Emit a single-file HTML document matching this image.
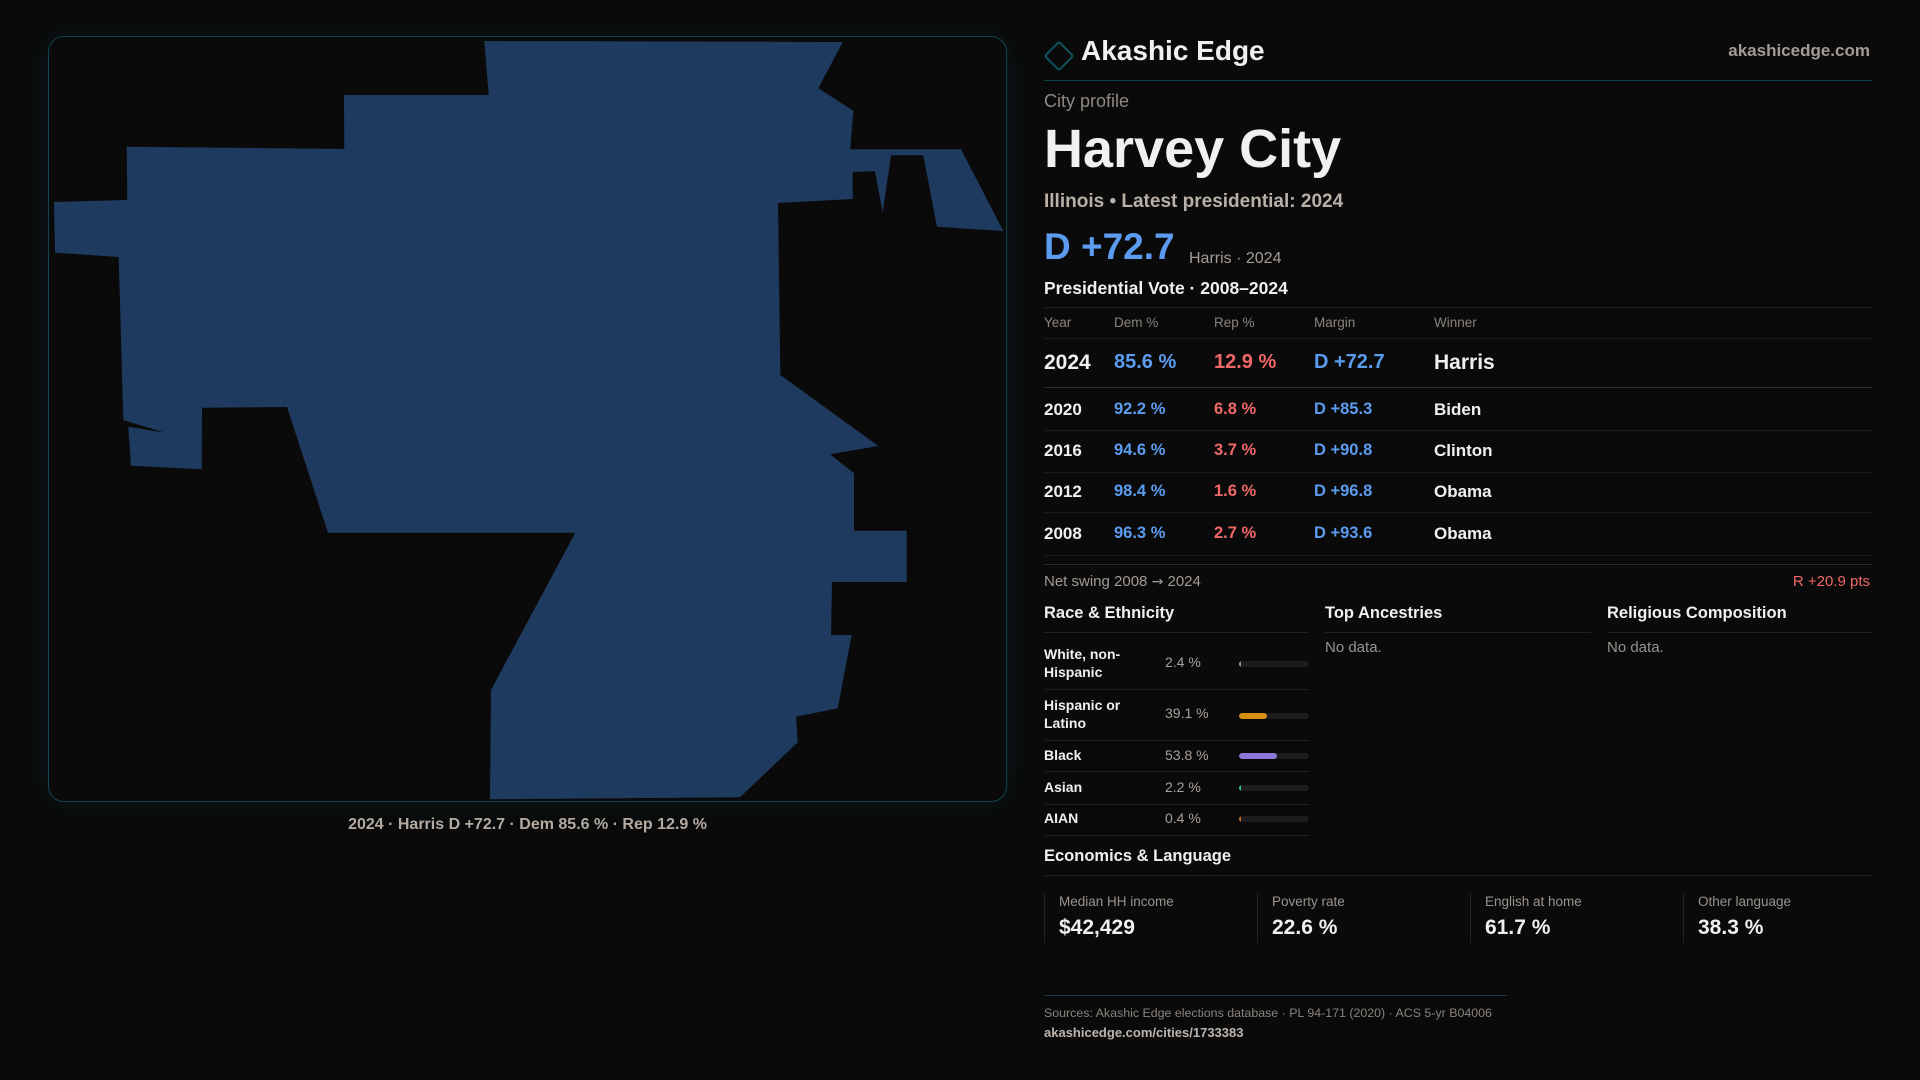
<!DOCTYPE html>
<html>
<head>
<meta charset="utf-8">
<style>
  html, body { margin:0; padding:0; }
  body { width:1920px; height:1080px; background:#0a0a0a; position:relative; overflow:hidden;
         font-family:"Liberation Sans", "DejaVu Sans", sans-serif; }
  .t { position:absolute; line-height:1; white-space:nowrap; }
  .b { font-weight:700; }
  .ln { position:absolute; height:1px; }
  .frame { position:absolute; left:48px; top:36px; width:957px; height:764px; border:1px solid #0f4450;
           border-radius:16px; background:#0b0a0b; box-shadow:0 0 28px rgba(20,90,105,0.18); }
  .dem { color:#5b9cf0; }
  .rep { color:#f06868; }
  .w { color:#f2f0ee; }
  .g { color:#a39b94; }
  .rn { position:absolute; left:1044px; font-size:14px; line-height:18px; font-weight:700; color:#f2f0ee; white-space:nowrap; }
  .rv { position:absolute; left:1165px; font-size:14px; line-height:18px; color:#a8a09a; white-space:nowrap; }
  .track { position:absolute; left:1239px; width:70px; height:6px; border-radius:3px; background:#1c1c1e; overflow:hidden; }
  .fill { position:absolute; left:0; top:0; height:6px; border-radius:3px; }
  .sbox { position:absolute; top:894px; height:49px; border-left:1px solid #232323; }
  .sl { position:absolute; font-size:13.5px; color:#9a938d; line-height:1; white-space:nowrap; }
  .sv { position:absolute; font-size:21px; font-weight:700; color:#f2f0ee; line-height:1; white-space:nowrap; }
</style>
</head>
<body>

<!-- Map frame -->
<div class="frame"></div>
<svg width="1920" height="1080" style="position:absolute;left:0;top:0" viewBox="0 0 1920 1080">
  <polygon fill="#1f3a5f" points="
    484.3,41 842.7,42 818.3,88.3 853.3,110.7 850.3,149.3 961,149.3 1003.3,231 937,226.7
    923.3,155.3 891,155.3 882.7,212.7 875,171.3 852.7,172 852.7,199 778,203 780.3,375
    878.3,446 830,454.3 854,473.3 854,530.7 906.7,530.7 906.7,582 832,582 831,635
    851.7,635 837.7,708.3 796,716.7 797.7,742.3 740,797.3 490,799.3 491,690 575.3,532.7
    328,532.7 287,407 202,407.7 201.7,469.3 131,465.7 128.3,426.7 165,432.7 123.3,420
    118.7,257 55,252.7 54,202 127.3,200 126.7,146.7 344.3,149 344,95 488.7,95"/>
</svg>
<div class="t b" style="left:0;width:1055px;text-align:center;top:816.5px;font-size:16px;color:#b3aaa2;">2024 · Harris D +72.7 · Dem 85.6 % · Rep 12.9 %</div>

<!-- Header -->
<div style="position:absolute;left:1048px;top:45px;width:18px;height:18px;border:2px solid #0f5360;border-radius:3px;transform:rotate(45deg);"></div>
<div class="t b w" style="left:1081px;top:37.3px;font-size:28px;">Akashic Edge</div>
<div class="t b" style="right:50px;top:41.6px;font-size:17px;color:#a39b94;">akashicedge.com</div>
<div class="ln" style="left:1044px;width:828px;top:80px;background:#0e3f48;"></div>

<div class="t" style="left:1044px;top:92px;font-size:18px;color:#8f8882;">City profile</div>
<div class="t b w" style="left:1044px;top:122.3px;font-size:54px;">Harvey City</div>
<div class="t b" style="left:1044px;top:191.9px;font-size:19px;color:#b9b0a8;">Illinois • Latest presidential: 2024</div>
<div class="t b dem" style="left:1044px;top:227.7px;font-size:37px;">D +72.7</div>
<div class="t g" style="left:1189px;top:250.5px;font-size:16px;">Harris · 2024</div>
<div class="t b w" style="left:1044px;top:280.2px;font-size:17.5px;">Presidential Vote · 2008–2024</div>
<div class="ln" style="left:1044px;width:828px;top:307px;background:#1f1f1f;"></div>

<!-- Table headers -->
<div class="t" style="left:1044px;top:315.6px;font-size:13.5px;color:#8a837d;">Year</div>
<div class="t" style="left:1114px;top:315.6px;font-size:13.5px;color:#8a837d;">Dem %</div>
<div class="t" style="left:1214px;top:315.6px;font-size:13.5px;color:#8a837d;">Rep %</div>
<div class="t" style="left:1314px;top:315.6px;font-size:13.5px;color:#8a837d;">Margin</div>
<div class="t" style="left:1434px;top:315.6px;font-size:13.5px;color:#8a837d;">Winner</div>
<div class="ln" style="left:1044px;width:828px;top:338px;background:#1c1c1c;"></div>

<!-- 2024 row -->
<div class="t b w" style="left:1044px;top:351.6px;font-size:21px;">2024</div>
<div class="t b dem" style="left:1114px;top:351.6px;font-size:20px;">85.6 %</div>
<div class="t b rep" style="left:1214px;top:351.6px;font-size:20px;">12.9 %</div>
<div class="t b dem" style="left:1314px;top:351.6px;font-size:20px;">D +72.7</div>
<div class="t b w" style="left:1434px;top:351.6px;font-size:21px;">Harris</div>
<div class="ln" style="left:1044px;width:828px;top:387px;background:#2c2c2c;"></div>

<!-- 2020 -->
<div class="t b w" style="left:1044px;top:400.6px;font-size:17px;">2020</div>
<div class="t b dem" style="left:1114px;top:400.6px;font-size:16.5px;">92.2 %</div>
<div class="t b rep" style="left:1214px;top:400.6px;font-size:16.5px;">6.8 %</div>
<div class="t b dem" style="left:1314px;top:400.6px;font-size:16.5px;">D +85.3</div>
<div class="t b w" style="left:1434px;top:400.6px;font-size:17px;">Biden</div>
<div class="ln" style="left:1044px;width:828px;top:430px;background:#1c1c1c;"></div>

<!-- 2016 -->
<div class="t b w" style="left:1044px;top:441.6px;font-size:17px;">2016</div>
<div class="t b dem" style="left:1114px;top:441.6px;font-size:16.5px;">94.6 %</div>
<div class="t b rep" style="left:1214px;top:441.6px;font-size:16.5px;">3.7 %</div>
<div class="t b dem" style="left:1314px;top:441.6px;font-size:16.5px;">D +90.8</div>
<div class="t b w" style="left:1434px;top:441.6px;font-size:17px;">Clinton</div>
<div class="ln" style="left:1044px;width:828px;top:472px;background:#1c1c1c;"></div>

<!-- 2012 -->
<div class="t b w" style="left:1044px;top:482.6px;font-size:17px;">2012</div>
<div class="t b dem" style="left:1114px;top:482.6px;font-size:16.5px;">98.4 %</div>
<div class="t b rep" style="left:1214px;top:482.6px;font-size:16.5px;">1.6 %</div>
<div class="t b dem" style="left:1314px;top:482.6px;font-size:16.5px;">D +96.8</div>
<div class="t b w" style="left:1434px;top:482.6px;font-size:17px;">Obama</div>
<div class="ln" style="left:1044px;width:828px;top:512px;background:#1c1c1c;"></div>

<!-- 2008 -->
<div class="t b w" style="left:1044px;top:524.6px;font-size:17px;">2008</div>
<div class="t b dem" style="left:1114px;top:524.6px;font-size:16.5px;">96.3 %</div>
<div class="t b rep" style="left:1214px;top:524.6px;font-size:16.5px;">2.7 %</div>
<div class="t b dem" style="left:1314px;top:524.6px;font-size:16.5px;">D +93.6</div>
<div class="t b w" style="left:1434px;top:524.6px;font-size:17px;">Obama</div>
<div class="ln" style="left:1044px;width:828px;top:555px;background:#1c1c1c;"></div>
<div class="ln" style="left:1044px;width:828px;top:564px;background:#2a2a2a;"></div>

<div class="t g" style="left:1044px;top:574.3px;font-size:15px;">Net swing 2008 <span style="font-family:'DejaVu Sans',sans-serif;font-size:14px;">→</span> 2024</div>
<div class="t rep" style="right:50px;top:574.3px;font-size:15px;">R +20.9 pts</div>

<!-- Section headers -->
<div class="t b w" style="left:1044px;top:605px;font-size:16.5px;">Race &amp; Ethnicity</div>
<div class="t b w" style="left:1325px;top:605px;font-size:16.5px;">Top Ancestries</div>
<div class="t b w" style="left:1607px;top:605px;font-size:16.5px;">Religious Composition</div>
<div class="ln" style="left:1044px;width:265px;top:632px;background:#222;"></div>
<div class="ln" style="left:1325px;width:266px;top:632px;background:#222;"></div>
<div class="ln" style="left:1607px;width:265px;top:632px;background:#222;"></div>
<div class="t" style="left:1325px;top:640.3px;font-size:15px;color:#9a938d;">No data.</div>
<div class="t" style="left:1607px;top:640.3px;font-size:15px;color:#9a938d;">No data.</div>

<!-- Race rows -->
<div class="rn" style="top:645.2px;">White, non-<br>Hispanic</div>
<div class="rv" style="top:653.2px;">2.4 %</div>
<div class="track" style="top:661px;"><div class="fill" style="width:2px;background:#8a9bb0;"></div></div>
<div class="ln" style="left:1044px;width:265px;top:689px;background:#1e1e1e;"></div>

<div class="rn" style="top:696.2px;">Hispanic or<br>Latino</div>
<div class="rv" style="top:704.2px;">39.1 %</div>
<div class="track" style="top:712.5px;"><div class="fill" style="width:28px;background:#d68f12;"></div></div>
<div class="ln" style="left:1044px;width:265px;top:740px;background:#1e1e1e;"></div>

<div class="rn" style="top:746.2px;">Black</div>
<div class="rv" style="top:746.2px;">53.8 %</div>
<div class="track" style="top:753px;"><div class="fill" style="width:38px;background:#8b78d8;"></div></div>
<div class="ln" style="left:1044px;width:265px;top:771px;background:#1e1e1e;"></div>

<div class="rn" style="top:778.2px;">Asian</div>
<div class="rv" style="top:778.2px;">2.2 %</div>
<div class="track" style="top:785px;"><div class="fill" style="width:2px;background:#2fc09a;"></div></div>
<div class="ln" style="left:1044px;width:265px;top:804px;background:#1e1e1e;"></div>

<div class="rn" style="top:809.2px;">AIAN</div>
<div class="rv" style="top:809.2px;">0.4 %</div>
<div class="track" style="top:816px;"><div class="fill" style="width:1.5px;background:#c06a20;"></div></div>
<div class="ln" style="left:1044px;width:265px;top:835px;background:#1e1e1e;"></div>

<!-- Economics -->
<div class="t b w" style="left:1044px;top:848px;font-size:16.5px;">Economics &amp; Language</div>
<div class="ln" style="left:1044px;width:828px;top:875px;background:#1f1f1f;"></div>

<div class="sbox" style="left:1044px;"></div>
<div class="sbox" style="left:1257px;"></div>
<div class="sbox" style="left:1470px;"></div>
<div class="sbox" style="left:1683px;"></div>
<div class="sl" style="left:1059px;top:894.6px;">Median HH income</div>
<div class="sl" style="left:1272px;top:894.6px;">Poverty rate</div>
<div class="sl" style="left:1485px;top:894.6px;">English at home</div>
<div class="sl" style="left:1698px;top:894.6px;">Other language</div>
<div class="sv" style="left:1059px;top:917.2px;">$42,429</div>
<div class="sv" style="left:1272px;top:917.2px;">22.6 %</div>
<div class="sv" style="left:1485px;top:917.2px;">61.7 %</div>
<div class="sv" style="left:1698px;top:917.2px;">38.3 %</div>

<!-- Footer -->
<div class="ln" style="left:1044px;width:463px;top:995px;background:#123c45;"></div>
<div class="t" style="left:1044px;top:1006.5px;font-size:12.4px;color:#8a837d;">Sources: Akashic Edge elections database · PL 94-171 (2020) · ACS 5-yr B04006</div>
<div class="t b" style="left:1044px;top:1026px;font-size:13px;color:#bdb5ad;">akashicedge.com/cities/1733383</div>

</body>
</html>
